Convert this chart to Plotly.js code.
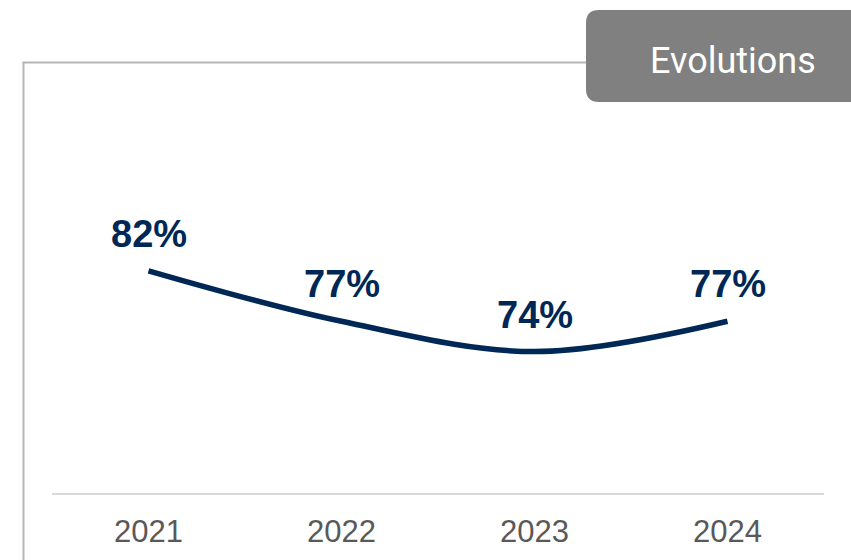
<!DOCTYPE html>
<html>
<head>
<meta charset="utf-8">
<script src="https://cdn.plot.ly/plotly-3.0.1.min.js"></script>
<style>
html,body{margin:0;padding:0;background:#fff;}
#chart{width:851px;height:560px;}
</style>
</head>
<body>
<div id="chart"></div>
<script>
const years = ['2021', '2022', '2023', '2024'];
const values = [82, 77, 74, 77];
const valueLabels = ['82%', '77%', '74%', '77%'];
const tabLabel = 'Evolutions';

const W = 851, H = 560;
const M = {l: 52, r: 27, t: 89, b: 67};
const pw = W - M.l - M.r, ph = H - M.t - M.b;
const px = x => (x - M.l) / pw;
const py = y => (H - M.b - y) / ph;

const navy = '#002856';

const trace = {
  x: years,
  y: values,
  type: 'scatter',
  mode: 'lines',
  line: {color: navy, width: 5.5, shape: 'spline', smoothing: 1},
  hoverinfo: 'skip'
};

const annotations = years.map((yr, i) => ({
  x: i, y: values[i], xref: 'x', yref: 'y',
  text: '<b>' + valueLabels[i] + '</b>',
  showarrow: false, yshift: 37, yanchor: 'middle', xanchor: 'center',
  font: {family: 'Liberation Sans, Arial, sans-serif', size: 38, color: navy}
}));

// rounded tab
const tx0 = 586, tx1 = 870, ty0 = 10, ty1 = 102, r = 13;
const tabPath = [
  'M', px(tx0 + r) + ',' + py(ty0),
  'L', px(tx1) + ',' + py(ty0),
  'L', px(tx1) + ',' + py(ty1),
  'L', px(tx0 + r) + ',' + py(ty1),
  'Q', px(tx0) + ',' + py(ty1), px(tx0) + ',' + py(ty1 - r),
  'L', px(tx0) + ',' + py(ty0 + r),
  'Q', px(tx0) + ',' + py(ty0), px(tx0 + r) + ',' + py(ty0),
  'Z'
].join(' ');

annotations.push({
  xref: 'paper', yref: 'paper', x: px(733), y: py(61),
  text: tabLabel, showarrow: false, xanchor: 'center', yanchor: 'middle',
  font: {family: 'Roboto, sans-serif', size: 36, color: '#ffffff'}
});

const shapes = [
  {type: 'line', xref: 'paper', yref: 'paper', x0: px(23.5), x1: px(23.5), y0: py(62), y1: py(565),
   line: {color: '#b5b5b5', width: 2}},
  {type: 'line', xref: 'paper', yref: 'paper', x0: px(22.5), x1: px(590), y0: py(62.5), y1: py(62.5),
   line: {color: '#b5b5b5', width: 2}},
  {type: 'path', xref: 'paper', yref: 'paper', path: tabPath, fillcolor: '#808080', line: {width: 0}}
];

const layout = {
  width: W, height: H,
  margin: M,
  paper_bgcolor: '#ffffff', plot_bgcolor: '#ffffff',
  showlegend: false,
  xaxis: {
    type: 'category', range: [-0.5, 3.5], fixedrange: true,
    showgrid: false, zeroline: false,
    showline: true, linecolor: '#d9d9d9', linewidth: 2,
    ticks: '', ticklabelstandoff: 10,
    tickfont: {family: 'Liberation Sans, Arial, sans-serif', size: 31, color: '#595959'}
  },
  yaxis: {
    range: [60, 100], visible: false, showgrid: false, zeroline: false, fixedrange: true
  },
  shapes: shapes,
  annotations: annotations
};

Plotly.newPlot('chart', [trace], layout, {displayModeBar: false, staticPlot: true});
</script>
</body>
</html>
